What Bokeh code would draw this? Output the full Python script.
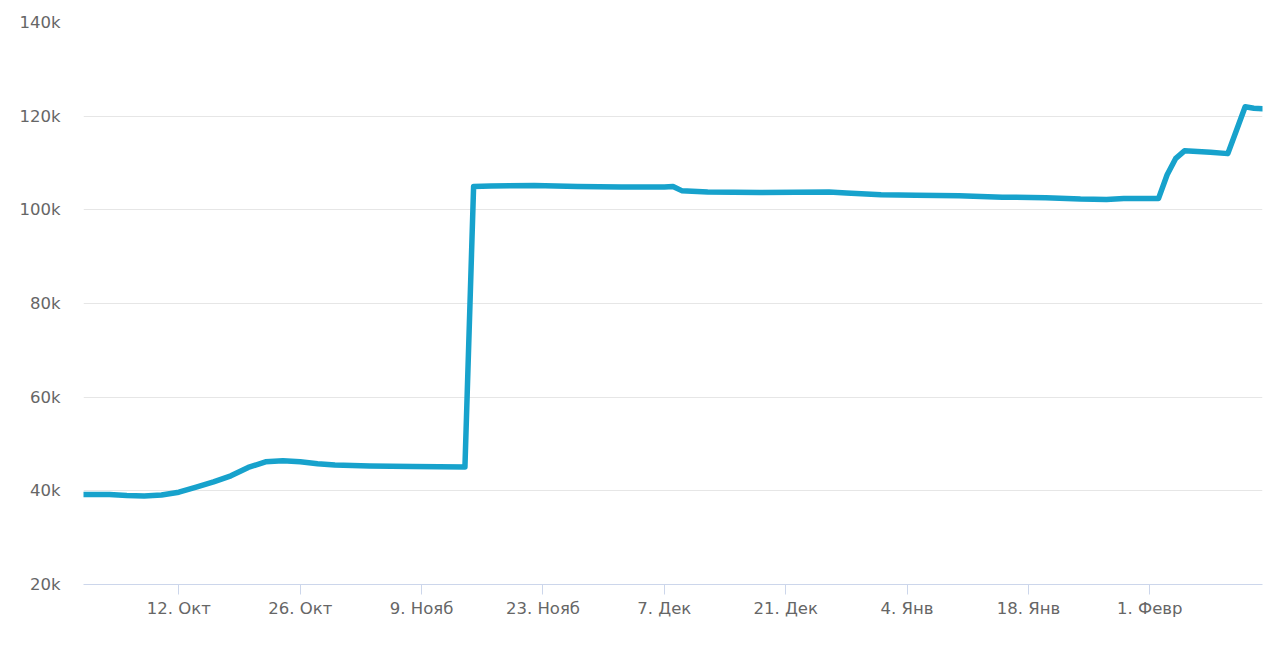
import pandas as pd
from bokeh.plotting import figure
from bokeh.models import FixedTicker, NumeralTickFormatter, Range1d
from bokeh.embed import file_html
from bokeh.resources import INLINE

# ---- data ----
dates = [
    "2017-10-01", "2017-10-04", "2017-10-06", "2017-10-08", "2017-10-10",
    "2017-10-12", "2017-10-14", "2017-10-16", "2017-10-18", "2017-10-20",
    "2017-10-22", "2017-10-24", "2017-10-26", "2017-10-28", "2017-10-30",
    "2017-11-03", "2017-11-08", "2017-11-14", "2017-11-15", "2017-11-17",
    "2017-11-22", "2017-11-27", "2017-12-02", "2017-12-07", "2017-12-08",
    "2017-12-09", "2017-12-12", "2017-12-18", "2017-12-26", "2017-12-28",
    "2018-01-01", "2018-01-05", "2018-01-10", "2018-01-15", "2018-01-20",
    "2018-01-24", "2018-01-27", "2018-01-29", "2018-02-02", "2018-02-03",
    "2018-02-04", "2018-02-05", "2018-02-08", "2018-02-10", "2018-02-11",
    "2018-02-12", "2018-02-13", "2018-02-14",
]
values = [
    39200, 39200, 39000, 38900, 39100,
    39700, 40800, 41900, 43200, 45000,
    46200, 46400, 46200, 45800, 45500,
    45300, 45200, 45100, 105000, 105100,
    105200, 105000, 104900, 104900, 105000,
    104100, 103800, 103700, 103800, 103600,
    103200, 103100, 103000, 102700, 102600,
    102300, 102200, 102400, 102400, 107500,
    111000, 112600, 112300, 112000, 117000,
    122000, 121700, 121600,
]
tick_dates = ["2017-10-12", "2017-10-26", "2017-11-09", "2017-11-23", "2017-12-07",
              "2017-12-21", "2018-01-04", "2018-01-18", "2018-02-01"]
tick_labels = ["12. Окт", "26. Окт", "9. Нояб", "23. Нояб", "7. Дек",
               "21. Дек", "4. Янв", "18. Янв", "1. Февр"]
y_ticks = [20000, 40000, 60000, 80000, 100000, 120000, 140000]

start = pd.Timestamp("2017-10-01")
xs = [(pd.Timestamp(d) - start).days for d in dates]
txs = [(pd.Timestamp(d) - start).days for d in tick_dates]

FONT = "DejaVu Sans"
LABEL_COLOR = "#666666"

p = figure(width=1275, height=639, output_backend="svg", toolbar_location=None,
           x_range=Range1d(0, xs[-1]), y_range=Range1d(20000, 140000))
p.min_border_left = 83
p.min_border_right = 13
p.min_border_top = 22
p.min_border_bottom = 55
p.outline_line_color = None
p.background_fill_color = "white"
p.border_fill_color = "white"

p.line(xs, values, line_color="#17a2cc", line_width=5.5, line_join="round", line_cap="round")

# x axis
xa = p.xaxis[0]
xa.ticker = FixedTicker(ticks=txs, minor_ticks=[])
xa.major_label_overrides = {t: l for t, l in zip(txs, tick_labels)}
xa.axis_line_color = "#ccd6eb"
xa.axis_line_width = 1
xa.major_tick_line_color = "#ccd6eb"
xa.major_tick_out = 10
xa.major_tick_in = 0
xa.minor_tick_line_color = None
xa.major_label_text_font = FONT
xa.major_label_text_font_size = "16.5px"
xa.major_label_text_color = LABEL_COLOR
xa.major_label_standoff = 4

# y axis
ya = p.yaxis[0]
ya.ticker = FixedTicker(ticks=y_ticks, minor_ticks=[])
ya.formatter = NumeralTickFormatter(format="0a")
ya.axis_line_color = None
ya.major_tick_line_color = None
ya.minor_tick_line_color = None
ya.major_tick_out = 0
ya.major_tick_in = 0
ya.major_label_text_font = FONT
ya.major_label_text_font_size = "16.5px"
ya.major_label_text_color = LABEL_COLOR
ya.major_label_standoff = 23

p.xgrid.grid_line_color = None
p.ygrid.grid_line_color = "#e6e6e6"
p.ygrid.grid_line_width = 1
p.ygrid.ticker = FixedTicker(ticks=y_ticks)

open("out.html", "w").write(file_html(p, INLINE))
